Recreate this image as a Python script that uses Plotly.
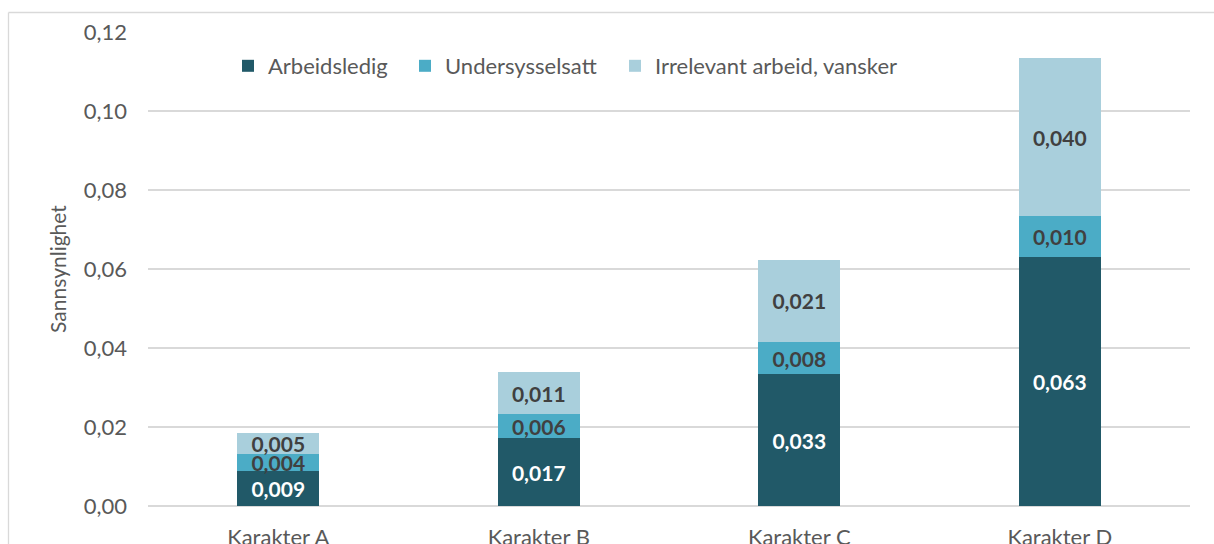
import plotly.graph_objects as go

categories = ["Karakter A", "Karakter B", "Karakter C", "Karakter D"]
arbeidsledig = [0.0088, 0.0172, 0.0334, 0.0631]
undersysselsatt = [0.0043, 0.0061, 0.0080, 0.0104]
irrelevant = [0.0055, 0.0106, 0.0210, 0.0398]
series_names = ["Arbeidsledig", "Undersysselsatt", "Irrelevant arbeid, vansker"]
y_ticks = [0.00, 0.02, 0.04, 0.06, 0.08, 0.10, 0.12]

colors = ["#215968", "#4BACC6", "#A9CFDC"]
text_colors = ["#FFFFFF", "#404040", "#404040"]
FONT = "Lato, 'Open Sans', sans-serif"

W, H = 1214, 544
ML, MR, MT, MB = 148, 24, 32, 38
PW, PH = W - ML - MR, H - MT - MB


def px_to_paper_x(px):
    return (px - ML) / PW


def px_to_paper_y(py):
    return (H - MB - py) / PH


legend_ids = ["legend", "legend2", "legend3"]
legend_left_px = [228, 405, 615]

fig = go.Figure()
for name, vals, c, tc, lg in zip(series_names, [arbeidsledig, undersysselsatt, irrelevant],
                                 colors, text_colors, legend_ids):
    fig.add_trace(go.Bar(
        name=name, x=categories, y=vals, legend=lg,
        marker=dict(color=c, line=dict(width=0)),
        texttemplate="%{y:.3f}", textposition="inside", insidetextanchor="middle",
        textangle=0, constraintext="none",
        textfont=dict(family=FONT, size=21, color=tc, weight="bold"),
        hoverinfo="skip",
    ))

legend_common = dict(orientation="h", xanchor="left", yanchor="middle",
                     font=dict(family=FONT, size=22, color="#595959"),
                     bgcolor="rgba(0,0,0,0)")
legends = {}
for lg, lx in zip(legend_ids, legend_left_px):
    legends[lg] = dict(legend_common, x=px_to_paper_x(lx), y=px_to_paper_y(66))

fig.update_layout(
    width=W, height=H,
    margin=dict(l=ML, r=MR, t=MT, b=MB, autoexpand=False),
    barmode="stack", bargap=0.685,
    separators=", ",
    plot_bgcolor="white", paper_bgcolor="white",
    font=dict(family=FONT, size=22, color="#595959"),
    showlegend=True,
    xaxis=dict(showgrid=False, showline=False, ticks="", ticklabelstandoff=16,
               automargin=False,
               tickfont=dict(family=FONT, size=22, color="#595959")),
    yaxis=dict(range=[0, 0.12], tickvals=y_ticks, tickformat=".2f",
               showgrid=True, gridcolor="#D9D9D9", gridwidth=1.5,
               zeroline=True, zerolinecolor="#D9D9D9", zerolinewidth=1.5,
               showline=False, ticks="", ticklabelstandoff=20, automargin=False,
               tickfont=dict(family=FONT, size=22, color="#595959")),
    shapes=[
        dict(type="line", xref="paper", yref="paper",
             x0=px_to_paper_x(8.5), x1=px_to_paper_x(W + 5), y0=px_to_paper_y(12.5), y1=px_to_paper_y(12.5),
             line=dict(color="#D9D9D9", width=1.3)),
        dict(type="line", xref="paper", yref="paper",
             x0=px_to_paper_x(8.5), x1=px_to_paper_x(8.5), y0=px_to_paper_y(12.5), y1=px_to_paper_y(H + 5),
             line=dict(color="#D9D9D9", width=1.3)),
    ],
    **legends,
)
fig.update_yaxes(title=dict(text="Sannsynlighet", standoff=11,
                            font=dict(family=FONT, size=21, color="#595959")))

fig.write_html("out.html", config={"displayModeBar": False},
               post_script="document.body.style.margin='0';")
